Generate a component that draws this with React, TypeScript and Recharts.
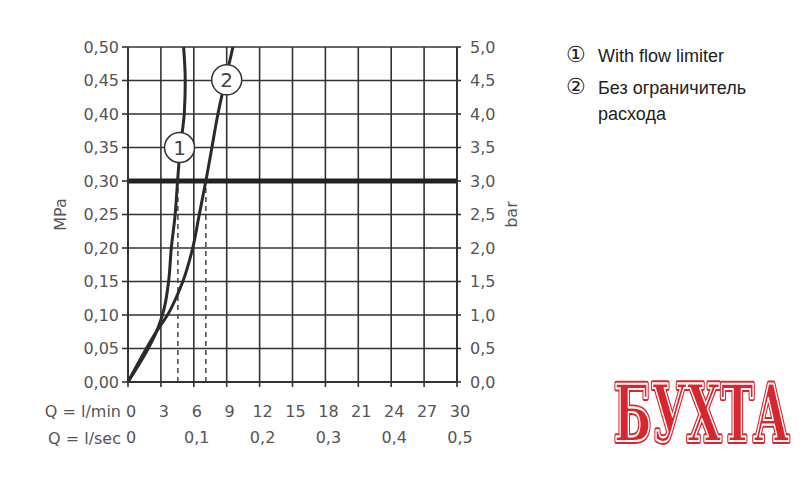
import React from "react";
import {
  ComposedChart,
  Line,
  XAxis,
  YAxis,
  CartesianGrid,
  ReferenceLine,
  ReferenceDot,
  Label,
} from "recharts";

// flow (l/min) and pressure (MPa)
const limiterFlow = [0, 2.9, 3.3, 3.7, 3.95, 4.3, 4.52, 4.77, 5.0, 5.13, 5.22, 5.07];
const limiterPressure = [0, 0.088, 0.11, 0.15, 0.2, 0.25, 0.3, 0.35, 0.38, 0.4, 0.45, 0.5];
const freeFlow = [0, 2.9, 3.6, 4.5, 5.0, 5.9, 6.5, 7.1, 7.65, 8.2, 8.87, 9.57];
const freePressure = [0, 0.083, 0.1, 0.13, 0.15, 0.2, 0.25, 0.3, 0.35, 0.4, 0.45, 0.5];

const minTicks = [0, 3, 6, 9, 12, 15, 18, 21, 24, 27, 30];
const secTicks = [0, 6, 12, 18, 24, 30];
const mpaTicks = [0, 0.05, 0.1, 0.15, 0.2, 0.25, 0.3, 0.35, 0.4, 0.45, 0.5];
const barTicks = [0, 0.5, 1, 1.5, 2, 2.5, 3, 3.5, 4, 4.5, 5];

// working pressure line (bar) across the whole flow range
const workLineFlow = [0, 30];
const workLineBar = [3, 3];
const workFlows = [4.55, 7.1];
const markerIds = ["1", "2"];
const markerFlow = [4.7, 9.0];
const markerPressure = [0.35, 0.451];

const limiterData = limiterFlow.map((q, i) => ({ q, p: limiterPressure[i] }));
const freeData = freeFlow.map((q, i) => ({ q, p: freePressure[i] }));
const workData = workLineFlow.map((q, i) => ({ q, bar: workLineBar[i] }));

const FONT = "'DejaVu Sans', sans-serif";
const TICK = { fill: "#555", fontSize: 16, fontFamily: FONT };
const INK = "#333";

const comma = (v: number, d: number) => v.toFixed(d).replace(".", ",");

const App = () => {
  return (
    <div style={{ position: "absolute", left: 0, top: 0, width: 812, height: 478, background: "#fff" }}>
      <ComposedChart
        width={812}
        height={478}
        margin={{ top: 47, right: 247, left: 0, bottom: 28 }}
      >
        <CartesianGrid stroke={INK} strokeWidth={1.6} />
        <XAxis
          type="number"
          dataKey="q"
          domain={[0, 30]}
          ticks={minTicks}
          interval={0}
          height={28}
          tickSize={5}
          tickMargin={19}
          tick={{ ...TICK, dx: 3 }}
          axisLine={{ stroke: INK, strokeWidth: 2 }}
          tickLine={{ stroke: INK, strokeWidth: 1.6 }}
        />
        <XAxis
          xAxisId="sec"
          type="number"
          dataKey="q"
          domain={[0, 30]}
          ticks={secTicks}
          interval={0}
          height={40}
          tickSize={0}
          tickMargin={22}
          tick={{ ...TICK, dx: 3 }}
          axisLine={false}
          tickLine={false}
          tickFormatter={(v: number) => (v === 0 ? "0" : comma(v / 60, 1))}
        />
        <YAxis
          type="number"
          dataKey="p"
          domain={[0, 0.5]}
          ticks={mpaTicks}
          interval={0}
          width={128}
          tickSize={6}
          tickMargin={3}
          tick={TICK}
          axisLine={{ stroke: INK, strokeWidth: 2 }}
          tickLine={{ stroke: INK, strokeWidth: 1.6 }}
          tickFormatter={(v: number) => comma(v, 2)}
        >
          <Label
            content={(props: any) => {
              const vb = props.viewBox || { x: 0, y: 47, height: 335 };
              const x = vb.x + 60;
              const y = vb.y + vb.height / 2;
              return (
                <text x={x} y={y} transform={`rotate(-90 ${x} ${y})`} textAnchor="middle" dominantBaseline="central" fill="#555" fontSize={16} fontFamily={FONT}>
                  MPa
                </text>
              );
            }}
          />
        </YAxis>
        <YAxis
          yAxisId="bar"
          orientation="right"
          type="number"
          dataKey="bar"
          domain={[0, 5]}
          ticks={barTicks}
          interval={0}
          width={108}
          tickSize={4}
          tickMargin={9}
          tick={TICK}
          axisLine={{ stroke: INK, strokeWidth: 2 }}
          tickLine={{ stroke: INK, strokeWidth: 1.6 }}
          tickFormatter={(v: number) => comma(v, 1)}
        >
          <Label
            content={(props: any) => {
              const vb = props.viewBox || { x: 457, y: 47, height: 335 };
              const x = vb.x + 54;
              const y = vb.y + vb.height / 2;
              return (
                <text x={x} y={y} transform={`rotate(-90 ${x} ${y})`} textAnchor="middle" dominantBaseline="central" fill="#555" fontSize={16} fontFamily={FONT}>
                  bar
                </text>
              );
            }}
          />
        </YAxis>

        {workFlows.map((q) => (
          <ReferenceLine
            key={q}
            segment={[{ x: q, y: 0 }, { x: q, y: 0.3 }]}
            stroke="#444"
            strokeWidth={1.5}
            strokeDasharray="5 4"
            ifOverflow="visible"
          />
        ))}
        <Line
          data={workData}
          xAxisId="sec"
          yAxisId="bar"
          dataKey="bar"
          type="linear"
          stroke="#222"
          strokeWidth={5}
          dot={false}
          isAnimationActive={false}
        />

        <Line data={limiterData} dataKey="p" type="monotoneY" stroke="#2a2a2a" strokeWidth={3} dot={false} isAnimationActive={false} />
        <Line data={freeData} dataKey="p" type="monotoneY" stroke="#2a2a2a" strokeWidth={3} dot={false} isAnimationActive={false} />

        {markerIds.map((id, i) => (
          <ReferenceDot
            key={id}
            x={markerFlow[i]}
            y={markerPressure[i]}
            r={15}
            fill="#fff"
            stroke={INK}
            strokeWidth={1.5}
            label={{ value: id, position: "center", fill: "#444", fontSize: 20, fontFamily: FONT }}
          />
        ))}
      </ComposedChart>

      <svg width={812} height={478} style={{ position: "absolute", left: 0, top: 0, pointerEvents: "none" }}>
        <g fill="#555" fontSize={16} fontFamily={FONT} textAnchor="end">
          <text x={121} y={417}>Q = l/min</text>
          <text x={121} y={443.5}>Q = l/sec</text>
        </g>
        <g fill="#222" fontSize={18} fontFamily="'Liberation Sans', Arial, sans-serif">
          <text x={566} y={62} fontSize={22}>①</text>
          <text x={598} y={62}>With flow limiter</text>
          <text x={566} y={94} fontSize={22}>②</text>
          <text x={598} y={94}>Без ограничитель</text>
          <text x={598} y={120}>расхода</text>
        </g>
        <g
          transform="translate(614 441) scale(0.6 1)"
          fontFamily="'DejaVu Serif', serif"
          fontWeight="bold"
          fontSize={78}
        >
          <text x={0} y={0} textLength={292} lengthAdjust="spacingAndGlyphs" fill="#d9262e" stroke="#d9262e" strokeWidth={6} strokeLinejoin="round">
            БУХТА
          </text>
          <text x={0} y={0} textLength={292} lengthAdjust="spacingAndGlyphs" fill="#d9262e" stroke="#fff" strokeWidth={2.2} strokeLinejoin="round">
            БУХТА
          </text>
        </g>
      </svg>
    </div>
  );
};

export default App;
